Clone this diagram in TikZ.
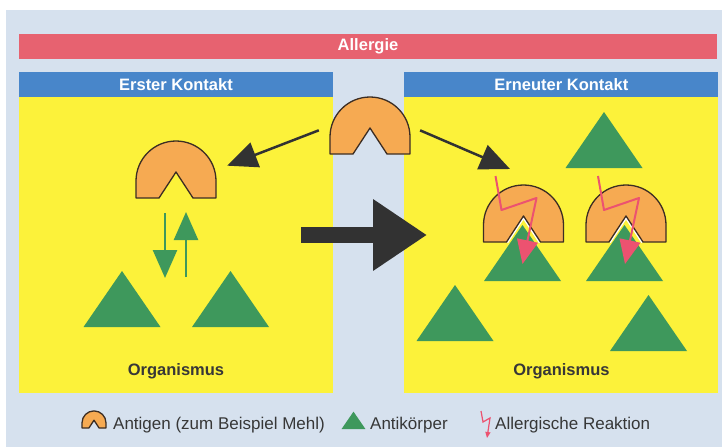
\documentclass[tikz,border=0pt]{standalone}
\usepackage{fontspec}
\setmainfont{Liberation Sans}
\usetikzlibrary{arrows.meta,positioning}

\definecolor{bgblue}{RGB}{214,225,238}
\definecolor{barred}{RGB}{231,98,112}
\definecolor{headblue}{RGB}{72,134,202}
\definecolor{bodyyellow}{RGB}{252,242,58}
\definecolor{abgreen}{RGB}{62,152,92}
\definecolor{agorange}{RGB}{246,170,82}
\definecolor{agedge}{RGB}{60,45,35}
\definecolor{darkarrow}{RGB}{50,50,50}
\definecolor{reactred}{RGB}{236,82,112}
\definecolor{labelgray}{RGB}{55,55,55}

\begin{document}
\begin{tikzpicture}
[ x=1pt, y=-1pt,
		bar/.style={rectangle,fill=barred,text=white,font=\bfseries\fontsize{16.5}{19}\selectfont,minimum width=698pt,minimum height=25pt,inner sep=0pt},
		header/.style={rectangle,fill=headblue,text=white,font=\bfseries\fontsize{16.5}{19}\selectfont,minimum width=314pt,minimum height=25pt,inner sep=0pt},
		body/.style={rectangle,fill=bodyyellow,minimum width=314pt,minimum height=296pt,inner sep=0pt},
		caption/.style={text=labelgray,font=\bfseries\fontsize{16.5}{19}\selectfont,inner sep=0pt},
		legend/.style={anchor=base west,text=labelgray,font=\fontsize{17}{20}\selectfont,inner sep=0pt},
		arrowIn/.style={-{Triangle[length=30pt,width=26pt]},draw=darkarrow,line width=2.5pt},
		arrowBig/.style={-{Triangle[length=54pt,width=68pt]},draw=darkarrow,line width=16pt},
		arrowGreen/.style={-{Triangle[length=28pt,width=24pt]},draw=abgreen,line width=2.5pt},
		aghalo/.style={},
		antigen/.pic={
			\path[aghalo] (-17,0) -- (0,-26) -- (17,0);
			\draw[agedge,line width=1.3pt,fill=agorange,line join=round] (-40,0) -- (-17,0) -- (0,-26) -- (17,0) -- (40,0) -- (40,-17) arc (0:-180:40) -- cycle;
			\coordinate (-west) at (-40,-28);
			\coordinate (-east) at (40,-28);
		},
		antibody/.pic={
			\fill[abgreen] (-38.5,0) -- (38.5,0) -- (0,-56) -- cycle;
		},
		reaction/.pic={
			\draw[reactred,line width=2pt,line join=round,-{Triangle[length=24pt,width=21pt]}] (-28,-66) -- (-22,-32) -- (13,-44) -- (-1,22);
		}]

	\useasboundingbox (0,0) rectangle (722,447);
	\fill[bgblue] (6,10) rectangle (722,447);

	\node[bar] (allergy) at (368,46.5) {Allergie};
	\node[header] (first head) at (176,84.5) {Erster Kontakt};
	\node[header] (second head) [right=71pt of first head] {Erneuter Kontakt};
	\node[body] (first body) [below=0pt of first head] {};
	\node[body] (second body) [below=0pt of second head] {};
	\node[caption] (first org) [above=14pt of first body.south] {Organismus};
	\node[caption] (second org) [above=14pt of second body.south] {Organismus};

	% first contact
	\pic (abOne) at (122,327) {antibody};
	\pic (abTwo) at (230.5,327) {antibody};
	\pic (agLeft) at (176,198) {antigen};
	\coordinate (bindDownA) at (165,213);
	\coordinate (bindDownB) at (165,278);
	\coordinate (bindUpA) at (186,277);
	\coordinate (bindUpB) at (186,212);
	\draw[arrowGreen] (bindDownA) -- (bindDownB);
	\draw[arrowGreen] (bindUpA) -- (bindUpB);

	% second contact
	\pic (abTop) at (604,168) {antibody};
	\pic (abA) at (522.5,281) {antibody};
	\pic (abB) at (624.5,281) {antibody};
	\pic (abC) at (455,341) {antibody};
	\pic (abD) at (648.5,351) {antibody};
	\pic[aghalo/.style={draw=white,line width=4pt}] (agA) at (523.5,242) {antigen};
	\pic[aghalo/.style={draw=white,line width=4pt}] (agB) at (626,242) {antigen};
	\pic (reactA) at (523.5,242) {reaction};
	\pic (reactB) at (626,242) {reaction};

	% antigen entering
	\pic (agTop) at (370,154) {antigen};
	\coordinate (entry) at (510,169);
	\draw[arrowIn,shorten <=12pt,shorten >=12pt] (agTop-west) -- (agLeft-east);
	\draw[arrowIn,shorten <=11pt] (agTop-east) -- (entry);

	\coordinate (bigStart) at (301,235);
	\coordinate (bigEnd) at (427,235);
	\draw[arrowBig] (bigStart) -- (bigEnd);

	% legend
	\pic[scale=0.3] (legAg) at (94,428) {antigen};
	\node[legend] (legAgText) at (113,429) {Antigen (zum Beispiel Mehl)};
	\pic[scale=0.31] (legAb) at (353.5,429) {antibody};
	\node[legend] (legAbText) at (370,429) {Antikörper};
	\draw[reactred,line width=1.2pt,-{Triangle[length=6pt,width=5pt]}] (481,411) -- (483,422) -- (490,418) -- (487,438);
	\node[legend] (legReText) at (495,429) {Allergische Reaktion};
\end{tikzpicture}
\end{document}
